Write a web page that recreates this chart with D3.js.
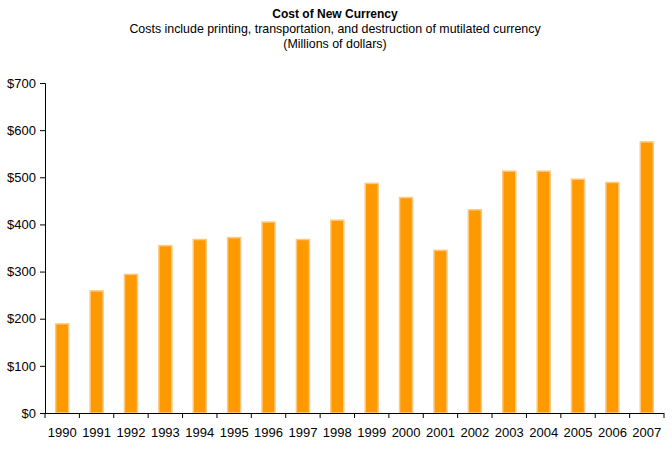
<!DOCTYPE html>
<html><head><meta charset="utf-8">
<script src="https://cdn.jsdelivr.net/npm/d3@7"></script>
<style>body{margin:0;background:#fff}svg{display:block;font-family:"Liberation Sans",Arial,sans-serif}</style>
</head><body><svg id="c" width="672" height="449"></svg>
<script>
const years = ["1990","1991","1992","1993","1994","1995","1996","1997","1998","1999","2000","2001","2002","2003","2004","2005","2006","2007"];
const costs = [189,259,294,355,368,372,405,368,409,487,457,345,431,513,513,496,489,575];
const yTicks = [0,100,200,300,400,500,600,700];
const titleText = "Cost of New Currency";
const subtitleLines = ["Costs include printing, transportation, and destruction of mutilated currency","(Millions of dollars)"];

const svg = d3.select("#c");
const m = {l:45, r:8, t:83, b:36};
const x = d3.scaleBand().domain(years).range([m.l, 664]).paddingInner(0).paddingOuter(0);
const y = d3.scaleLinear().domain([0,700]).range([413, 83]);

svg.append("text").attr("x",335).attr("y",18).attr("text-anchor","middle")
  .attr("font-size",12).attr("font-weight","bold").text(titleText);
subtitleLines.forEach((t,i)=>svg.append("text").attr("x",335).attr("y",33+i*15)
  .attr("text-anchor","middle").attr("font-size",12.4).text(t));

const bw = 13;
svg.append("g").selectAll("rect").data(years).join("rect")
  .attr("x",d=>x(d)+x.bandwidth()/2-bw/2)
  .attr("y",(d,i)=>y(costs[i]))
  .attr("width",bw)
  .attr("height",(d,i)=>y(0)-y(costs[i]))
  .attr("fill","#FF9900").attr("stroke","#FFC880").attr("stroke-width",1.5);

const ya = svg.append("g").attr("transform",`translate(${m.l},0)`)
  .call(d3.axisLeft(y).tickValues(yTicks).tickSize(5).tickPadding(4).tickFormat(d=>"$"+d));
ya.selectAll("text").attr("font-size",13).attr("fill","#000").attr("font-family","Liberation Sans, Arial, sans-serif");
ya.selectAll("line,path").attr("stroke","#000");

const xa = svg.append("g").attr("transform",`translate(0,${y(0)})`)
  .call(d3.axisBottom(x).tickSize(0).tickPadding(15));
xa.selectAll("text").attr("font-size",13).attr("fill","#000").attr("font-family","Liberation Sans, Arial, sans-serif");
xa.select("path").attr("stroke","#000").attr("d",`M${m.l},0.5H664`);
xa.append("g").selectAll("line").data(years.concat(["end"])).join("line")
  .attr("x1",(d,i)=>i<years.length?x(d):x(years[years.length-1])+x.bandwidth())
  .attr("x2",(d,i)=>i<years.length?x(d):x(years[years.length-1])+x.bandwidth())
  .attr("y1",0).attr("y2",5).attr("stroke","#000");
</script></body></html>
